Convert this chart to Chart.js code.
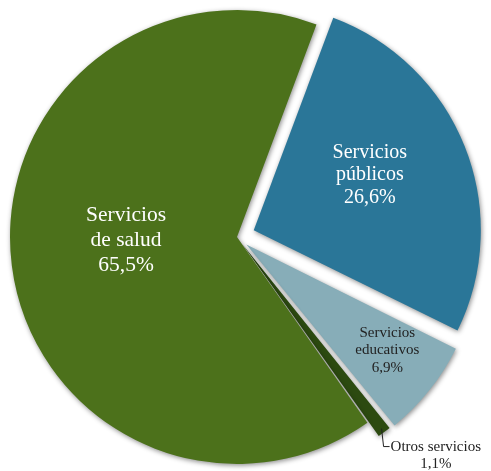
<!DOCTYPE html>
<html>
<head>
<meta charset="utf-8">
<script src="https://cdn.jsdelivr.net/npm/chart.js@4"></script>
<style>
html,body{margin:0;padding:0;background:#fff;}
#wrap{width:491px;height:471px;position:relative;}
</style>
</head>
<body>
<div id="wrap"><canvas id="c" width="491" height="471"></canvas></div>
<script>
const categories = ['Servicios públicos', 'Servicios educativos', 'Otros servicios', 'Servicios de salud'];
const values = [26.6, 6.9, 1.1, 65.5];
const labelLines = [['Servicios', 'públicos'], ['Servicios', 'educativos'], ['Otros servicios'], ['Servicios', 'de salud']];
const colors = ['#2A7698', '#87ADB8', '#2C4A10', '#4C711B'];

function fmtPct(v) { return v.toFixed(1).replace('.', ',') + '%'; }

const explode = [72, 48, 36, 0];
const labelStyle = [
  {f: 0.567, da: -3.9, size: 20, lh: 22.5, color: '#ffffff'},
  {f: 0.777, da: -1.6, size: 15, lh: 17.5, color: '#222222'},
  {outside: true, size: 15, lh: 17, color: '#222222'},
  {f: 0.489, da: 5.5, size: 21.5, lh: 25, color: '#ffffff'}
];

const shadowPlugin = {
  id: 'shadow',
  beforeDatasetsDraw(chart) {
    const ctx = chart.ctx;
    ctx.save();
    ctx.shadowColor = 'rgba(0,0,0,0.45)';
    ctx.shadowBlur = 5;
    ctx.shadowOffsetX = 1;
    ctx.shadowOffsetY = 1.5;
  },
  afterDatasetsDraw(chart) {
    chart.ctx.restore();
  }
};

const labelPlugin = {
  id: 'labels',
  afterDraw(chart) {
    const ctx = chart.ctx;
    const meta = chart.getDatasetMeta(0);
    meta.data.forEach((arc, i) => {
      const st = labelStyle[i];
      const mid = (arc.startAngle + arc.endAngle) / 2;
      const tr = (explode[i] || 0) / 4;
      const cx = arc.x + Math.cos(mid) * tr;
      const cy = arc.y + Math.sin(mid) * tr;
      const lines = labelLines[i].concat([fmtPct(values[i])]);
      ctx.save();
      ctx.font = st.size + 'px "Liberation Serif", "Times New Roman", serif';
      ctx.fillStyle = st.color;
      ctx.textBaseline = 'middle';
      if (st.outside) {
        const sx = cx + Math.cos(mid) * (arc.outerRadius + 4);
        const sy = cy + Math.sin(mid) * (arc.outerRadius + 4);
        const ey = sy + 18;
        ctx.strokeStyle = '#222';
        ctx.lineWidth = 1;
        ctx.beginPath();
        ctx.moveTo(sx, sy);
        ctx.lineTo(sx + 2, ey);
        ctx.lineTo(sx + 8, ey);
        ctx.stroke();
        const tx = sx + 9;
        const w = ctx.measureText(lines[0]).width;
        ctx.textAlign = 'left';
        ctx.fillText(lines[0], tx, ey);
        ctx.textAlign = 'center';
        ctx.fillText(lines[1], tx + w / 2, ey + st.lh);
      } else {
        const a = mid + st.da * Math.PI / 180;
        const px = cx + Math.cos(a) * arc.outerRadius * st.f;
        const py = cy + Math.sin(a) * arc.outerRadius * st.f;
        ctx.textAlign = 'center';
        const n = lines.length;
        lines.forEach((t, k) => {
          ctx.fillText(t, px, py + (k - (n - 1) / 2) * st.lh);
        });
      }
      ctx.restore();
    });
  }
};

new Chart(document.getElementById('c'), {
  type: 'pie',
  data: {
    labels: categories,
    datasets: [{
      data: values,
      backgroundColor: colors,
      borderWidth: 0,
      offset: explode
    }]
  },
  options: {
    responsive: false,
    animation: false,
    rotation: 20.5,
    radius: 227,
    layout: {padding: {left: 0, right: 17, top: 3, bottom: 0}},
    plugins: {
      legend: {display: false},
      tooltip: {enabled: false}
    }
  },
  plugins: [shadowPlugin, labelPlugin]
});
</script>
</body>
</html>
